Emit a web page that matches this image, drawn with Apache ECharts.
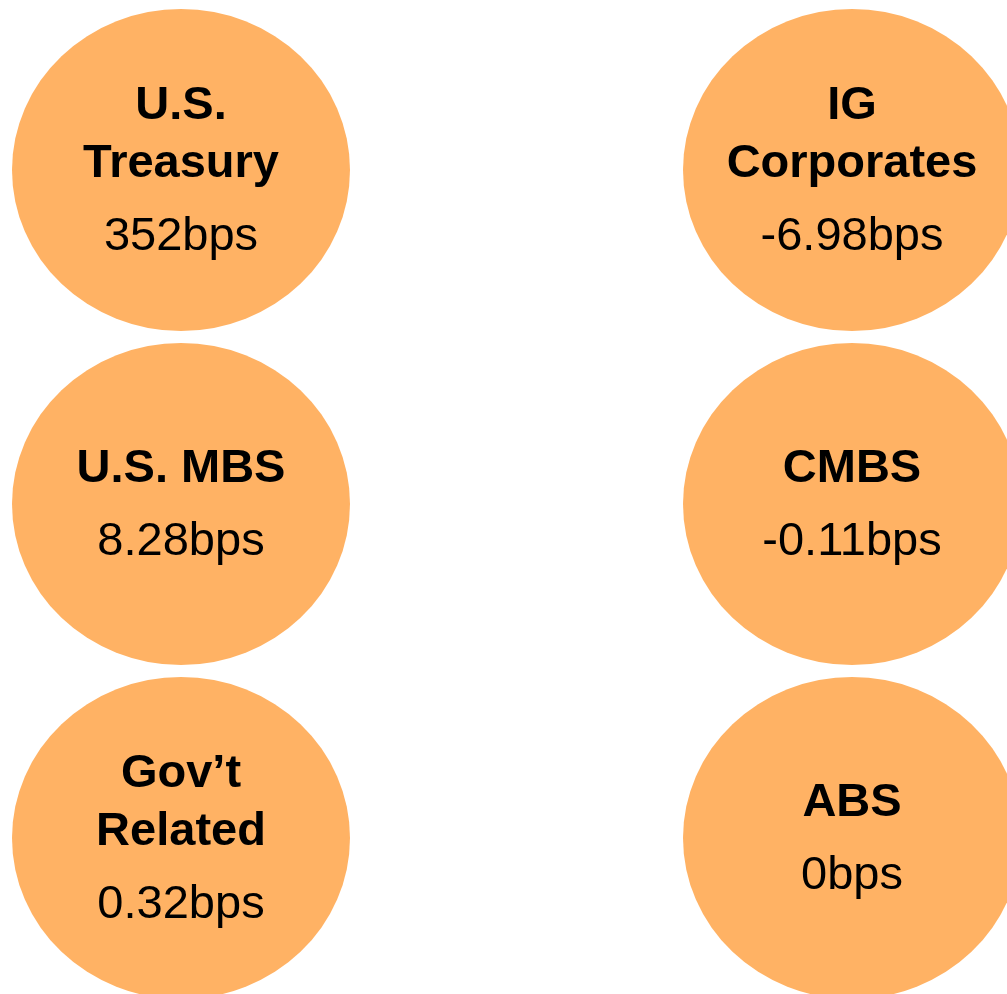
<!DOCTYPE html>
<html>
<head>
<meta charset="utf-8">
<script src="https://cdn.jsdelivr.net/npm/echarts@6/dist/echarts.min.js"></script>
<style>
html, body { margin: 0; padding: 0; background: #ffffff; }
#chart { width: 1007px; height: 994px; }
</style>
</head>
<body>
<div id="chart"></div>
<script>
// Sectors listed column by column (left column top-to-bottom, then right column)
var sectors = ['U.S.\nTreasury', 'U.S. MBS', 'Gov\u2019t\nRelated', 'IG\nCorporates', 'CMBS', 'ABS'];
var values = [352, 8.28, 0.32, -6.98, -0.11, 0];
var unit = 'bps';
var columns = ['left', 'right'];
var rows = ['top', 'middle', 'bottom'];

var data = sectors.map(function (name, i) {
  return {
    name: name,
    value: [columns[Math.floor(i / rows.length)], rows[i % rows.length], values[i]]
  };
});

var chart = echarts.init(document.getElementById('chart'), null, { renderer: 'canvas' });
chart.setOption({
  animation: false,
  backgroundColor: '#ffffff',
  grid: { left: 181, right: 155, top: 170, bottom: 156, containLabel: false },
  xAxis: { type: 'category', data: columns, boundaryGap: false, show: false },
  yAxis: { type: 'category', data: rows, boundaryGap: false, inverse: true, show: false },
  series: [{
    type: 'scatter',
    silent: true,
    clip: false,
    symbol: 'path://M0 50A50 50 0 1 1 100 50A50 50 0 1 1 0 50Z',
    symbolSize: [338, 322],
    itemStyle: { color: '#FFB264', opacity: 1 },
    label: {
      show: true,
      position: 'inside',
      offset: [0, 9],
      formatter: function (p) {
        var lines = p.name.split('\n').map(function (l) { return '{n|' + l + '}'; });
        lines.push('{v|' + p.value[2] + unit + '}');
        return lines.join('\n');
      },
      rich: {
        n: { fontFamily: 'Liberation Sans, Arial, sans-serif', fontWeight: 'bold', fontSize: 47, lineHeight: 58, color: '#000000', align: 'center' },
        v: { fontFamily: 'Liberation Sans, Arial, sans-serif', fontWeight: 'normal', fontSize: 47, lineHeight: 88, color: '#000000', align: 'center' }
      }
    },
    emphasis: { disabled: true },
    data: data
  }]
});
</script>
</body>
</html>
